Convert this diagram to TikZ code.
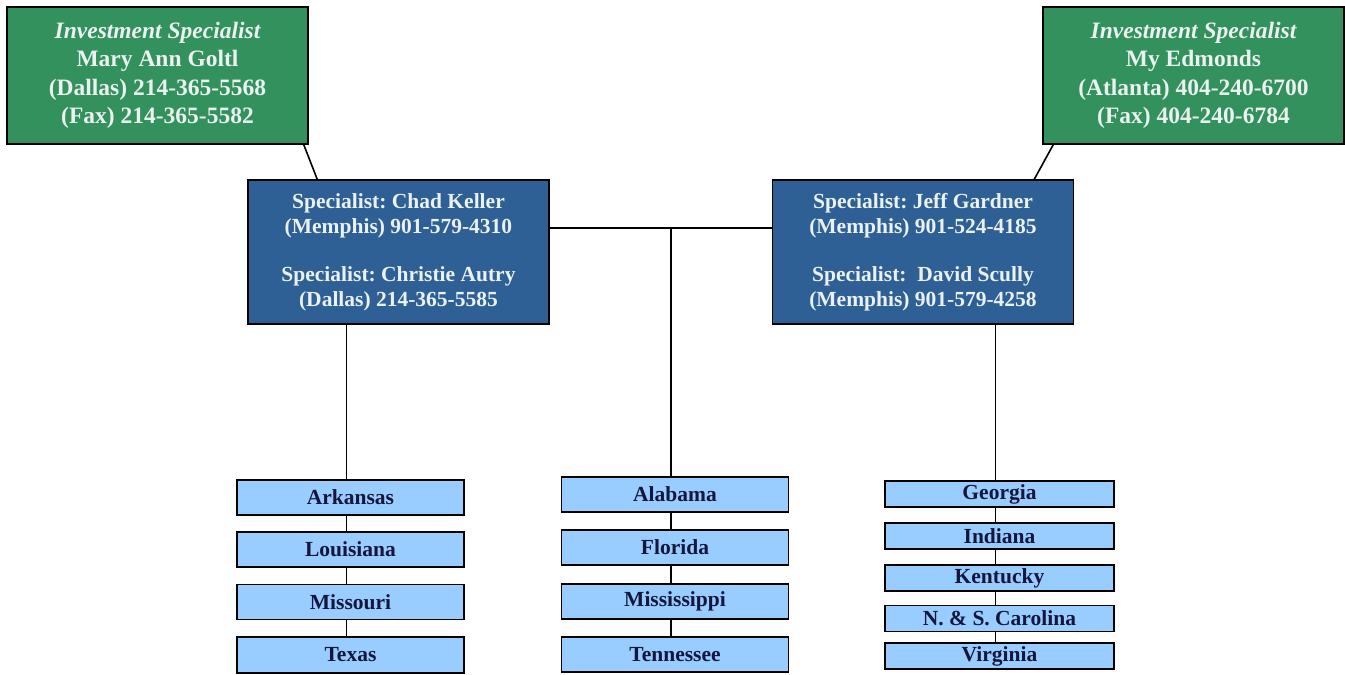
\documentclass[tikz,border=0pt]{standalone}
\usepackage{fontspec}
\setmainfont{Liberation Serif}
\frenchspacing
\definecolor{boxgreen}{RGB}{50,145,92}
\definecolor{boxblue}{RGB}{46,96,150}
\definecolor{statefill}{RGB}{153,204,255}
\definecolor{statetext}{RGB}{20,22,60}
\definecolor{lighttext}{RGB}{235,240,240}
\tikzset{
  greenbox/.style={draw=black, line width=1.6pt, fill=boxgreen, text=lighttext, align=center,
    minimum width=301pt, minimum height=137pt, inner sep=0pt,
    font=\fontsize{23.5}{28.5}\selectfont\bfseries},
  bluebox/.style={draw=black, line width=1.6pt, fill=boxblue, text=lighttext, align=center,
    minimum width=301pt, minimum height=144pt, inner sep=0pt,
    font=\fontsize{21.5}{25}\selectfont\bfseries},
  statebox/.style={draw=black, line width=1.4pt, fill=statefill, text=statetext, align=center,
    minimum width=227pt, inner sep=0pt, font=\fontsize{21.5}{22}\selectfont\bfseries},
  conn/.style={draw=black, line width=1.6pt},
}
\begin{document}
\begin{tikzpicture}[x=1pt,y=-1pt]
\useasboundingbox (0,0) rectangle (1345,675);
% top boxes
\node[greenbox] (g1) at (157.5,75.5) {{\itshape Investment Specialist}\\Mary Ann Goltl\\(Dallas) 214-365-5568\\(Fax) 214-365-5582};
\node[greenbox] (g2) at (1193.5,75.5) {{\itshape Investment Specialist}\\My Edmonds\\(Atlanta) 404-240-6700\\(Fax) 404-240-6784};
\node[bluebox] (b1) at (398.5,252) {Specialist: Chad Keller\\(Memphis) 901-579-4310\\[23pt]Specialist: Christie Autry\\(Dallas) 214-365-5585};
\node[bluebox] (b2) at (923,252) {Specialist: Jeff Gardner\\(Memphis) 901-524-4185\\[23pt]Specialist:\ \ David Scully\\(Memphis) 901-579-4258};
% states left
\node[statebox, minimum height=35pt] (ar) at (350.5,497.5) {Arkansas};
\node[statebox, minimum height=35pt] (la) at (350.5,549.5) {Louisiana};
\node[statebox, minimum height=35pt] (mo) at (350.5,602) {Missouri};
\node[statebox, minimum height=36pt] (tx) at (350.5,655) {Texas};
% states middle
\node[statebox, minimum height=35pt] (al) at (675,494.5) {Alabama};
\node[statebox, minimum height=35pt] (fl) at (675,547.5) {Florida};
\node[statebox, minimum height=35pt] (ms) at (675,601.5) {Mississippi};
\node[statebox, minimum height=35pt] (tn) at (675,654.5) {Tennessee};
% states right
\node[statebox, minimum width=229pt, minimum height=26pt] (ga) at (999.5,494) {Georgia};
\node[statebox, minimum width=229pt, minimum height=26pt] (in) at (999.5,536) {Indiana};
\node[statebox, minimum width=229pt, minimum height=26pt] (ky) at (999.5,578) {Kentucky};
\node[statebox, minimum width=229pt, minimum height=26pt] (nc) at (999.5,618.5) {N. \& S. Carolina};
\node[statebox, minimum width=229pt, minimum height=26pt] (va) at (999.5,656) {Virginia};
% connectors
\draw[conn] ([xshift=-5pt]g1.south east) -- ([xshift=70pt]b1.north west);
\draw[conn] ([xshift=11pt]g2.south west) -- ([xshift=-40pt]b2.north east);
\draw[conn] ([yshift=24pt]b1.east) -- ([yshift=24pt]b2.west);
\coordinate (mid) at ([yshift=24pt]b1.east -| al.north);
\draw[conn] ([xshift=-4pt]mid) -- ([xshift=-4pt]al.north);
\draw[conn] ([xshift=-4pt]al.south) -- ([xshift=-4pt]fl.north);
\draw[conn] ([xshift=-4pt]fl.south) -- ([xshift=-4pt]ms.north);
\draw[conn] ([xshift=-4pt]ms.south) -- ([xshift=-4pt]tn.north);
\draw[conn] ([xshift=-4pt]ar.north |- b1.south) -- ([xshift=-4pt]ar.north);
\draw[conn] ([xshift=-4pt]ar.south) -- ([xshift=-4pt]la.north);
\draw[conn] ([xshift=-4pt]la.south) -- ([xshift=-4pt]mo.north);
\draw[conn] ([xshift=-4pt]mo.south) -- ([xshift=-4pt]tx.north);
\draw[conn] ([xshift=-4pt]ga.north |- b2.south) -- ([xshift=-4pt]ga.north);
\draw[conn] ([xshift=-4pt]ga.south) -- ([xshift=-4pt]in.north);
\draw[conn] ([xshift=-4pt]in.south) -- ([xshift=-4pt]ky.north);
\draw[conn] ([xshift=-4pt]ky.south) -- ([xshift=-4pt]nc.north);
\draw[conn] ([xshift=-4pt]nc.south) -- ([xshift=-4pt]va.north);
\end{tikzpicture}
\end{document}
